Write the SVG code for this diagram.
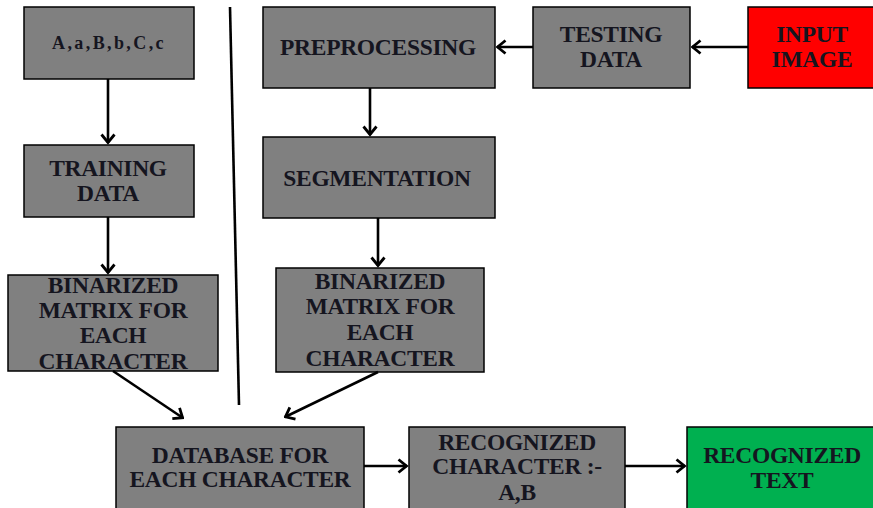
<svg xmlns="http://www.w3.org/2000/svg" width="873" height="508" viewBox="0 0 873 508">
<defs>
<style>
.box{fill:#808080;stroke:#000;stroke-width:1.5}
.red{fill:#ff0000;stroke:#000;stroke-width:1.5}
.green{fill:#00b050;stroke:#000;stroke-width:1.5}
.t{font-weight:bold;font-size:23.5px;letter-spacing:-0.3px;fill:#15151f;text-anchor:middle}
.conn line{stroke:#000;stroke-width:2.6;fill:none}
</style>
<marker id="ah" viewBox="0 0 12 16" refX="10.5" refY="8" markerWidth="12" markerHeight="16" markerUnits="userSpaceOnUse" orient="auto">
<path d="M2,1.5 L10,8 L2,14.5" fill="none" stroke="#000" stroke-width="2.8"/>
</marker>
</defs>
<rect width="873" height="508" fill="#fff"/>
<g class="t" font-family="'Liberation Serif', 'Times New Roman', 'DejaVu Serif', serif">
<g id="n-chars"><rect class="box" x="24" y="7" width="170" height="72"/><text x="109" y="49" style="font-size:18px;letter-spacing:2.4px">A,a,B,b,C,c</text></g>
<g id="n-training"><rect class="box" x="24" y="145" width="170" height="72"/><text x="108" y="176">TRAINING</text><text x="108" y="201">DATA</text></g>
<g id="n-bin-left"><rect class="box" x="8" y="275" width="210" height="96"/><text x="113" y="293">BINARIZED</text><text x="113" y="318">MATRIX FOR</text><text x="113" y="343">EACH</text><text x="113" y="369">CHARACTER</text></g>
<g id="n-pre"><rect class="box" x="263" y="7" width="232" height="81"/><text x="378" y="55">PREPROCESSING</text></g>
<g id="n-test"><rect class="box" x="533" y="7" width="157" height="81"/><text x="611" y="42">TESTING</text><text x="611" y="67">DATA</text></g>
<g id="n-input"><rect class="red" x="748" y="7" width="126" height="81"/><text x="812" y="42">INPUT</text><text x="812" y="67">IMAGE</text></g>
<g id="n-seg"><rect class="box" x="263" y="137" width="232" height="81"/><text x="377" y="186">SEGMENTATION</text></g>
<g id="n-bin-right"><rect class="box" x="276" y="268" width="208" height="104"/><text x="380" y="289">BINARIZED</text><text x="380" y="314">MATRIX FOR</text><text x="380" y="340">EACH</text><text x="380" y="366">CHARACTER</text></g>
<g id="n-db"><rect class="box" x="116" y="427" width="248" height="90"/><text x="240" y="463">DATABASE FOR</text><text x="240" y="487">EACH CHARACTER</text></g>
<g id="n-rec"><rect class="box" x="409" y="427" width="216" height="90"/><text x="517" y="450">RECOGNIZED</text><text x="517" y="474">CHARACTER :-</text><text x="517" y="500">A,B</text></g>
<g id="n-text"><rect class="green" x="687" y="427" width="190" height="90"/><text x="782" y="463">RECOGNIZED</text><text x="782" y="488">TEXT</text></g>
</g>
<g class="conn" id="connectors">
<line x1="230" y1="7" x2="239" y2="405"/>
<line x1="108" y1="79" x2="108" y2="143" marker-end="url(#ah)"/>
<line x1="108" y1="217" x2="108" y2="273" marker-end="url(#ah)"/>
<line x1="748" y1="47" x2="692" y2="47" marker-end="url(#ah)"/>
<line x1="533" y1="47" x2="497" y2="47" marker-end="url(#ah)"/>
<line x1="370" y1="88" x2="370" y2="135" marker-end="url(#ah)"/>
<line x1="378" y1="218" x2="378" y2="266" marker-end="url(#ah)"/>
<line x1="113" y1="371" x2="183" y2="418" marker-end="url(#ah)"/>
<line x1="378" y1="372" x2="285" y2="417" marker-end="url(#ah)"/>
<line x1="364" y1="466" x2="407" y2="466" marker-end="url(#ah)"/>
<line x1="625" y1="466" x2="685" y2="466" marker-end="url(#ah)"/>
</g>
</svg>
